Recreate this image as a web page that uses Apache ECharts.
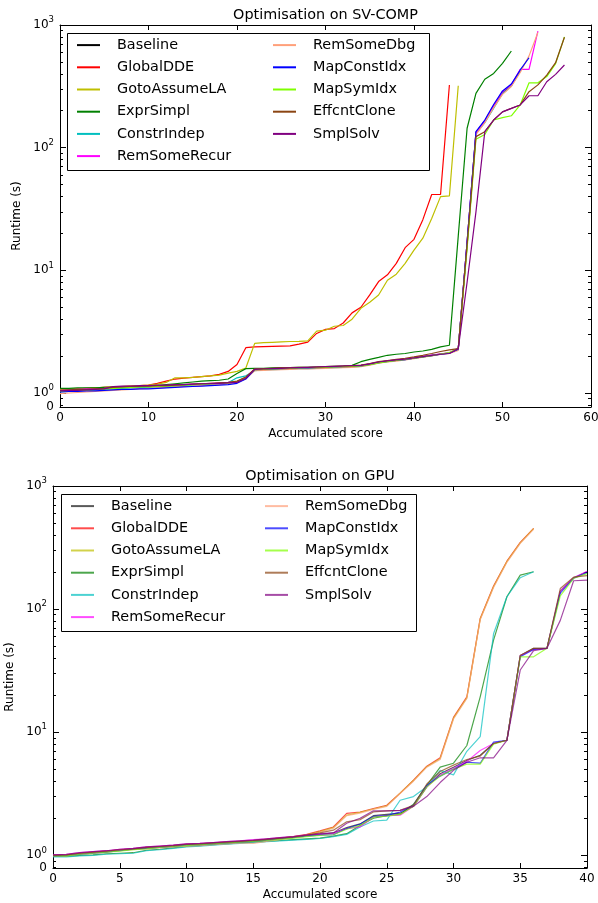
<!DOCTYPE html>
<html>
<head>
<meta charset="utf-8">
<script src="https://cdn.jsdelivr.net/npm/echarts@6/dist/echarts.min.js"></script>
<style>
html,body{margin:0;padding:0;background:#fff}
#main{width:598px;height:903px}
</style>
</head>
<body>
<div id="main"></div>
<script>
var FONT = 'DejaVu Sans';

var names = ['Baseline', 'GlobalDDE', 'GotoAssumeLA', 'ExprSimpl', 'ConstrIndep', 'RemSomeRecur',
             'RemSomeDbg', 'MapConstIdx', 'MapSymIdx', 'EffcntClone', 'SmplSolv'];
var colors = ['#000000', '#ff0000', '#bfbf00', '#008000', '#00bfbf', '#ff00ff',
              '#ffa07a', '#0000ff', '#7fff00', '#8b4513', '#800080'];
var gpuColors = ['rgba(0,0,0,0.65)', 'rgba(255,0,0,0.7)', 'rgba(191,191,0,0.7)', 'rgba(0,128,0,0.7)',
                 'rgba(0,191,191,0.7)', 'rgba(255,0,255,0.7)', 'rgba(255,160,122,0.7)', 'rgba(0,0,255,0.7)',
                 'rgba(127,255,0,0.7)', 'rgba(139,69,19,0.7)', 'rgba(128,0,128,0.7)'];

// x ticks / y range
var svXTicks = [0, 10, 20, 30, 40, 50, 60];
var gpuXTicks = [0, 5, 10, 15, 20, 25, 30, 35, 40];
var svYMin = 0.769, gpuYMin = 0.789;

// ---- SV-COMP runtimes (s), index = accumulated score ----
var svBaseline = [1.04,1.05,1.06,1.07,1.07,1.08,1.10,1.11,1.12,1.12, 1.13,1.14,1.14,1.15,1.16,1.17,1.18,1.19,1.20,1.21,
  1.23,1.33,1.56,1.57,1.58,1.59,1.60,1.60,1.61,1.62, 1.63,1.64,1.65,1.66,1.67,1.72,1.78,1.82,1.85,1.88,
  1.93,1.98,2.03,2.08,2.12,2.28,17,133,165,218, 280,320,425];
var svGlobalDDE = [1.06,1.07,1.08,1.09,1.10,1.11,1.12,1.13,1.14,1.15, 1.16,1.20,1.25,1.30,1.32,1.34,1.36,1.38,1.42,1.50,
  1.71,2.34,2.38,2.39,2.40,2.41,2.42,2.50,2.60,3.06, 3.30,3.35,3.72,4.50,5.0,6.3,8.1,9.2,11.4,15.3,
  17.9,25.9,41.5,41.5,324];
var svGotoAssumeLA = [1.07,1.07,1.08,1.09,1.10,1.11,1.12,1.13,1.14,1.15, 1.16,1.18,1.22,1.33,1.33,1.34,1.36,1.38,1.40,1.45,
  1.50,1.60,2.54,2.57,2.59,2.61,2.63,2.64,2.66,3.2, 3.25,3.5,3.55,4.0,4.9,5.5,6.3,8.3,9.3,11.4,
  14.6,18.3,26.5,39.9,40.4,320];
var svExprSimpl = [1.09,1.09,1.10,1.10,1.10,1.11,1.11,1.12,1.12,1.13, 1.13,1.15,1.17,1.19,1.21,1.23,1.25,1.26,1.27,1.30,
  1.44,1.58,1.59,1.59,1.60,1.61,1.61,1.62,1.62,1.63, 1.64,1.65,1.66,1.68,1.80,1.88,1.95,2.03,2.07,2.10,
  2.16,2.20,2.27,2.38,2.45,19,144,277,361,403, 487,614];
var svConstrIndep = [1.02,1.03,1.04,1.05,1.06,1.07,1.08,1.09,1.10,1.10, 1.11,1.12,1.13,1.14,1.15,1.16,1.17,1.18,1.19,1.21,
  1.33,1.38,1.52,1.54,1.55,1.56,1.57,1.58,1.58,1.59, 1.60,1.61,1.62,1.63,1.65,1.70,1.76,1.80,1.84,1.87,
  1.92,1.97,2.02,2.07,2.13,2.25,16,130,160,210, 275,318,420];
var svRemSomeRecur = [1.05,1.06,1.07,1.08,1.08,1.09,1.11,1.12,1.12,1.13, 1.13,1.14,1.15,1.16,1.17,1.18,1.19,1.20,1.21,1.22,
  1.24,1.34,1.56,1.57,1.58,1.59,1.60,1.61,1.61,1.62, 1.63,1.64,1.65,1.66,1.67,1.73,1.79,1.83,1.86,1.89,
  1.94,1.99,2.04,2.09,2.13,2.30,17,132,165,220, 285,325,435,435,890];
var svRemSomeDbg = [0.99,1.00,1.01,1.02,1.03,1.04,1.05,1.06,1.07,1.08, 1.09,1.10,1.11,1.12,1.13,1.14,1.15,1.16,1.17,1.19,
  1.22,1.31,1.52,1.53,1.54,1.55,1.56,1.57,1.57,1.58, 1.59,1.60,1.61,1.62,1.64,1.69,1.75,1.79,1.82,1.86,
  1.91,1.96,2.01,2.06,2.10,2.22,16,128,160,212, 272,315,410,560,870];
var svMapConstIdx = [1.02,1.03,1.03,1.04,1.04,1.05,1.06,1.07,1.07,1.08, 1.08,1.09,1.10,1.11,1.12,1.13,1.14,1.15,1.16,1.17,
  1.20,1.30,1.55,1.56,1.57,1.58,1.59,1.60,1.60,1.61, 1.62,1.63,1.64,1.65,1.66,1.71,1.77,1.81,1.84,1.87,
  1.92,1.97,2.02,2.07,2.11,2.28,17,135,168,225, 290,330,430,541];
var svMapSymIdx = [1.04,1.05,1.06,1.06,1.07,1.08,1.09,1.10,1.11,1.12, 1.12,1.13,1.14,1.15,1.16,1.17,1.18,1.19,1.20,1.21,
  1.24,1.34,1.55,1.56,1.57,1.58,1.59,1.60,1.61,1.61, 1.62,1.63,1.64,1.65,1.66,1.70,1.76,1.80,1.84,1.88,
  1.92,1.97,2.02,2.08,2.14,2.30,15,117,128,168, 176,182,223,338,338,380,485,800];
var svEffcntClone = [1.05,1.06,1.07,1.07,1.08,1.09,1.11,1.12,1.13,1.13, 1.14,1.15,1.15,1.16,1.17,1.18,1.19,1.20,1.21,1.22,
  1.25,1.35,1.57,1.58,1.59,1.60,1.61,1.62,1.62,1.63, 1.64,1.65,1.66,1.67,1.69,1.74,1.80,1.84,1.88,1.92,
  1.97,2.03,2.10,2.18,2.25,2.30,16,123,135,168, 196,209,223,286,325,391,493,794];
var svSmplSolv = [1.04,1.05,1.05,1.06,1.07,1.08,1.13,1.14,1.14,1.15, 1.15,1.16,1.16,1.17,1.17,1.18,1.19,1.19,1.20,1.21,
  1.22,1.32,1.56,1.57,1.58,1.59,1.60,1.61,1.62,1.63, 1.64,1.65,1.66,1.67,1.68,1.73,1.79,1.83,1.86,1.89,
  1.93,1.98,2.03,2.07,2.10,2.30,8,30,135,168, 196,209,223,265,265,345,396,472];

// ---- GPU runtimes (s) ----
var gpuBaseline = [1.0,1.0,1.03,1.05,1.07,1.10,1.12,1.15,1.17,1.19, 1.22,1.23,1.25,1.27,1.29,1.31,1.34,1.37,1.40,1.45,
  1.48,1.52,1.68,1.8,2.1,2.15,2.2,2.5,3.6,4.6, 5.2,5.9,6.5,8.1,8.6,42,48,48,140,180, 201];
var gpuGlobalDDE = [1.0,1.01,1.04,1.06,1.08,1.11,1.13,1.16,1.18,1.20, 1.23,1.24,1.26,1.28,1.30,1.32,1.35,1.38,1.42,1.48,
  1.58,1.7,2.19,2.25,2.4,2.55,3.2,4.07,5.3,6.2, 13.2,19.4,84,154,245,348,453];
var gpuGotoAssumeLA = [1.0,1.0,1.03,1.05,1.07,1.10,1.12,1.15,1.17,1.19, 1.22,1.23,1.25,1.27,1.29,1.31,1.34,1.37,1.41,1.47,
  1.56,1.68,2.12,2.23,2.38,2.52,3.2,4.05,5.25,6.1, 13.0,19.0,83,152,243,345,450];
var gpuExprSimpl = [0.98,0.98,1.0,1.01,1.03,1.04,1.05,1.10,1.12,1.15, 1.18,1.20,1.22,1.24,1.26,1.28,1.30,1.32,1.34,1.36,
  1.38,1.43,1.50,1.75,2.0,2.1,2.15,2.6,3.7,5.2, 5.6,7.8,19.4,56,126,189,201];
var gpuConstrIndep = [0.97,0.97,0.99,1.0,1.02,1.03,1.04,1.09,1.11,1.14, 1.17,1.19,1.21,1.23,1.25,1.27,1.29,1.31,1.33,1.35,
  1.37,1.42,1.48,1.7,1.9,1.93,2.8,3.0,3.6,4.9, 4.5,7.0,9.2,63,126,180,201];
var gpuRemSomeRecur = [1.01,1.02,1.05,1.07,1.09,1.12,1.14,1.17,1.19,1.21, 1.24,1.25,1.27,1.29,1.31,1.34,1.36,1.39,1.42,1.47,
  1.48,1.50,1.65,1.70,2.05,2.1,2.12,2.5,3.6,4.5, 5.1,5.8,7.1,8.1,8.6,42,47,48,140,180, 203];
var gpuRemSomeDbg = [0.99,0.99,1.02,1.04,1.06,1.09,1.11,1.13,1.15,1.17, 1.19,1.20,1.22,1.24,1.26,1.25,1.30,1.34,1.39,1.45,
  1.54,1.66,2.1,2.2,2.36,2.5,3.18,4.0,5.2,6.0, 12.8,18.8,82,150,240,342,445];
var gpuMapConstIdx = [0.99,1.0,1.02,1.04,1.06,1.09,1.12,1.14,1.16,1.18, 1.21,1.22,1.24,1.26,1.28,1.30,1.33,1.36,1.39,1.43,
  1.46,1.47,1.65,1.79,2.07,2.1,2.25,2.55,3.7,4.4, 5.0,5.7,5.6,8.3,8.6,41,47,48,135,178, 198];
var gpuMapSymIdx = [0.99,0.99,1.02,1.04,1.06,1.08,1.11,1.13,1.16,1.18, 1.20,1.22,1.24,1.26,1.28,1.30,1.32,1.35,1.38,1.42,
  1.45,1.47,1.63,1.75,2.04,2.08,2.15,2.5,3.6,4.4, 5.0,5.5,5.5,8.0,8.6,41,41,48,128,178, 194];
var gpuEffcntClone = [1.0,1.01,1.04,1.06,1.08,1.11,1.13,1.16,1.18,1.20, 1.23,1.24,1.26,1.28,1.30,1.32,1.35,1.38,1.41,1.46,
  1.52,1.60,1.87,1.95,2.25,2.3,2.32,2.55,3.8,4.8, 5.4,6.0,6.4,8.1,8.6,42,48,48,147,182, 187];
var gpuSmplSolv = [1.01,1.02,1.05,1.07,1.09,1.12,1.14,1.17,1.19,1.21, 1.24,1.25,1.27,1.29,1.31,1.33,1.36,1.39,1.42,1.46,
  1.50,1.52,1.82,2.0,2.3,2.3,2.32,2.5,3.0,3.9, 4.9,5.7,6.2,6.2,8.6,32,46,48,81,170, 172];

var svAll = [svBaseline, svGlobalDDE, svGotoAssumeLA, svExprSimpl, svConstrIndep, svRemSomeRecur,
             svRemSomeDbg, svMapConstIdx, svMapSymIdx, svEffcntClone, svSmplSolv];
var gpuAll = [gpuBaseline, gpuGlobalDDE, gpuGotoAssumeLA, gpuExprSimpl, gpuConstrIndep, gpuRemSomeRecur,
              gpuRemSomeDbg, gpuMapConstIdx, gpuMapSymIdx, gpuEffcntClone, gpuSmplSolv];

// every axis gets its own fresh option objects
function xAxis(grid, ticks, pos) {
  var ax = {
    type: 'value', gridIndex: grid, position: pos,
    min: ticks[0], max: ticks[ticks.length - 1], interval: ticks[1] - ticks[0],
    splitLine: {show: false},
    axisLine: {show: true, onZero: false, lineStyle: {color: '#000'}},
    axisTick: {show: true, inside: true, length: 5, lineStyle: {color: '#000'}},
    axisLabel: {show: pos === 'bottom', margin: 5, fontFamily: FONT, fontSize: 12, color: '#000'}
  };
  if (pos === 'bottom') {
    ax.name = 'Accumulated score';
    ax.nameLocation = 'middle';
    ax.nameGap = 21;
    ax.nameTextStyle = {fontFamily: FONT, fontSize: 12, color: '#000'};
  }
  return ax;
}

// log axis; minor ticks split each decade at 2..9 (and crowd the band below 10^0)
function yAxis(grid, yMin, pos) {
  var ax = {
    type: 'log', gridIndex: grid, position: pos, min: yMin, max: 1000,
    splitLine: {show: false},
    axisLine: {show: true, onZero: false, lineStyle: {color: '#000'}},
    axisTick: {show: true, inside: true, length: 6, lineStyle: {color: '#000'}},
    minorTick: {show: true, splitNumber: 9, length: 3, lineStyle: {color: '#000'}},
    axisLabel: {show: false}
  };
  if (pos === 'left') {
    ax.name = 'Runtime (s)';
    ax.nameLocation = 'middle';
    ax.nameGap = 34;
    ax.nameRotate = 90;
    ax.nameTextStyle = {fontFamily: FONT, fontSize: 12, color: '#000'};
    ax.axisLabel = {
      show: true, margin: 6, fontFamily: FONT, fontSize: 12, color: '#000',
      formatter: function (v) {
        if (v < 0.95) return '0';
        return '10{sup|' + Math.round(Math.log10(v)) + '}';
      },
      rich: {sup: {fontFamily: FONT, fontSize: 8.5, color: '#000', padding: [0, 0, 10, 0]}}
    };
  }
  return ax;
}

function lineSeries(all, cols, xi, yi) {
  return all.map(function (vals, k) {
    return {
      name: names[k], type: 'line', xAxisIndex: xi, yAxisIndex: yi,
      symbol: 'none', animation: false, clip: true,
      color: cols[k],
      lineStyle: {width: 1.2, color: cols[k]},
      data: vals.map(function (v, i) { return [i, v]; })
    };
  });
}

function legend(left, top, from, to, cols) {
  return {
    orient: 'vertical', left: left, top: top, padding: 0, itemGap: 0,
    itemWidth: 23, itemHeight: 2, icon: 'rect', selectedMode: false,
    textStyle: {fontFamily: FONT, fontSize: 14.4, color: '#000', lineHeight: 22.2, padding: [0, 0, 0, 12]},
    data: names.slice(from, to).map(function (n, i) {
      return {name: n, itemStyle: {color: cols[from + i]}};
    })
  };
}

var chart = echarts.init(document.getElementById('main'));
chart.setOption({
  animation: false,
  title: [
    {text: 'Optimisation on SV-COMP', left: 325.5, top: 8, textAlign: 'center', padding: 0,
     textStyle: {fontFamily: FONT, fontSize: 14.4, fontWeight: 'normal', color: '#000'}},
    {text: 'Optimisation on GPU', left: 320, top: 469, textAlign: 'center', padding: 0,
     textStyle: {fontFamily: FONT, fontSize: 14.4, fontWeight: 'normal', color: '#000'}}
  ],
  grid: [
    {left: 60, top: 25, width: 531, height: 382, containLabel: false, outerBoundsMode: 'none'},
    {left: 53, top: 486, width: 534, height: 382, containLabel: false, outerBoundsMode: 'none'}
  ],
  xAxis: [xAxis(0, svXTicks, 'bottom'), xAxis(0, svXTicks, 'top'),
          xAxis(1, gpuXTicks, 'bottom'), xAxis(1, gpuXTicks, 'top')],
  yAxis: [yAxis(0, svYMin, 'left'), yAxis(0, svYMin, 'right'),
          yAxis(1, gpuYMin, 'left'), yAxis(1, gpuYMin, 'right')],
  legend: [
    legend(77, 34, 0, 6, colors),
    legend(273, 34, 6, 11, colors),
    legend(71, 495, 0, 6, gpuColors),
    legend(265, 495, 6, 11, gpuColors)
  ],
  graphic: [
    {type: 'rect', z: 3, shape: {x: 67.5, y: 33.5, width: 362, height: 137},
     style: {fill: '#fff', stroke: '#000', lineWidth: 1}},
    {type: 'rect', z: 3, shape: {x: 61.5, y: 494.5, width: 355, height: 137},
     style: {fill: '#fff', stroke: '#000', lineWidth: 1}}
  ],
  series: lineSeries(svAll, colors, 0, 0).concat(lineSeries(gpuAll, gpuColors, 2, 2))
});
</script>
</body>
</html>
